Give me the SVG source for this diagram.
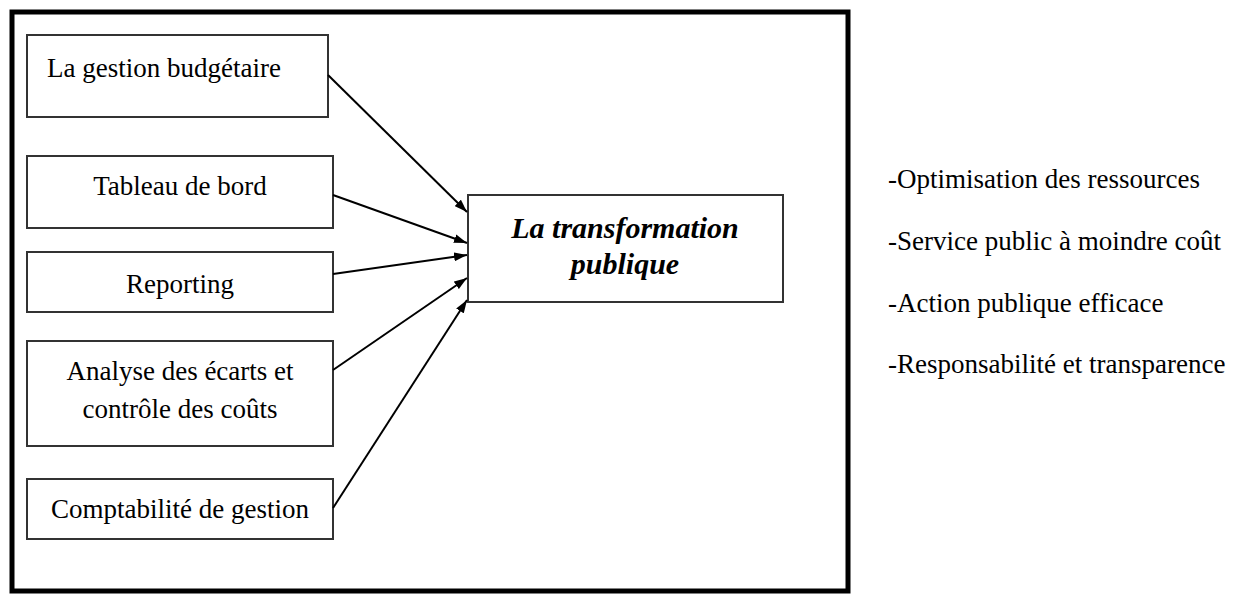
<svg xmlns="http://www.w3.org/2000/svg" width="1238" height="594" viewBox="0 0 1238 594">
<style>
.frame{fill:#fff;stroke:#000;stroke-width:5}
.box{fill:#fff;stroke:#333;stroke-width:2}
.t{font-family:"Liberation Serif","Times New Roman",serif;font-size:27px;fill:#000}
.c{text-anchor:middle}
.bi{font-family:"Liberation Serif","Times New Roman",serif;font-size:30px;font-weight:bold;font-style:italic;fill:#000;text-anchor:middle}
.conn line{stroke:#000;stroke-width:2;marker-end:url(#ah)}
</style>
<defs>
<marker id="ah" markerUnits="userSpaceOnUse" viewBox="0 0 13 9" refX="13" refY="4.5" markerWidth="13" markerHeight="9" orient="auto">
<path d="M0,0 L13,4.5 L0,9 z" fill="#000"/>
</marker>
</defs>
<rect width="1238" height="594" fill="#fff"/>
<rect id="frame" class="frame" x="12" y="12" width="836" height="579"/>
<g id="n1"><rect class="box" x="27" y="35" width="301" height="82"/><text class="t" x="47" y="77">La gestion budgétaire</text></g>
<g id="n2"><rect class="box" x="27" y="156" width="306" height="72"/><text class="t c" x="180" y="195">Tableau de bord</text></g>
<g id="n3"><rect class="box" x="27" y="252" width="306" height="60"/><text class="t c" x="180" y="293">Reporting</text></g>
<g id="n4"><rect class="box" x="27" y="341" width="306" height="105"/><text class="t c" x="180" y="380">Analyse des écarts et</text><text class="t c" x="180" y="418">contrôle des coûts</text></g>
<g id="n5"><rect class="box" x="27" y="479" width="306" height="60"/><text class="t c" x="180" y="518">Comptabilité de gestion</text></g>
<g id="center"><rect class="box" x="468" y="195" width="315" height="107"/><text class="bi" x="625" y="238">La transformation</text><text class="bi" x="625" y="274">publique</text></g>
<g id="connectors" class="conn">
<line x1="328" y1="75" x2="467" y2="212"/>
<line x1="333" y1="195" x2="467" y2="243"/>
<line x1="333" y1="274" x2="467" y2="255"/>
<line x1="333" y1="370" x2="467" y2="278"/>
<line x1="333" y1="508" x2="467" y2="300"/>
</g>
<g id="outcomes">
<text class="t" x="888" y="188">-Optimisation des ressources</text>
<text class="t" x="888" y="250">-Service public à moindre coût</text>
<text class="t" x="888" y="312">-Action publique efficace</text>
<text class="t" x="888" y="373">-Responsabilité et transparence</text>
</g>
</svg>
